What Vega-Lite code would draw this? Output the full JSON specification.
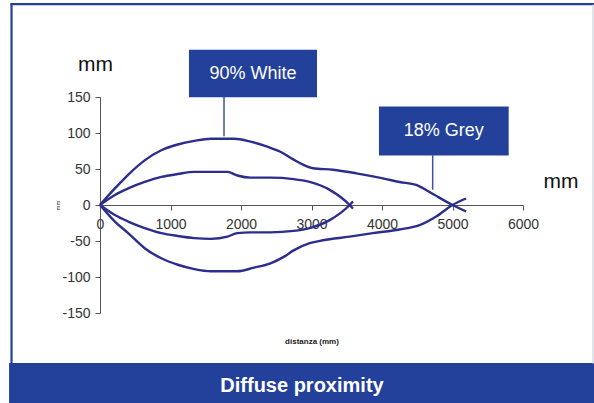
{
  "$schema": "https://vega.github.io/schema/vega-lite/v6.json",
  "width": 423,
  "height": 216,
  "autosize": "none",
  "padding": {"left": 100, "top": 97, "right": 71, "bottom": 90},
  "background": "white",
  "data": {"values": [{}]},
  "config": {
    "view": {"stroke": null},
    "font": "Liberation Sans",
    "axis": {"labelFont": "Liberation Sans", "titleFont": "Liberation Sans", "grid": false}
  },
  "datasets": {
    "curves": [
      {"curve": "white_upper", "d": 0, "w": 0},
      {"curve": "white_upper", "d": 211, "w": 23},
      {"curve": "white_upper", "d": 399, "w": 42},
      {"curve": "white_upper", "d": 634, "w": 62},
      {"curve": "white_upper", "d": 869, "w": 76},
      {"curve": "white_upper", "d": 1103, "w": 84},
      {"curve": "white_upper", "d": 1338, "w": 89},
      {"curve": "white_upper", "d": 1573, "w": 92},
      {"curve": "white_upper", "d": 1901, "w": 92},
      {"curve": "white_upper", "d": 2136, "w": 88},
      {"curve": "white_upper", "d": 2371, "w": 81},
      {"curve": "white_upper", "d": 2559, "w": 74},
      {"curve": "white_upper", "d": 2746, "w": 63},
      {"curve": "white_upper", "d": 2880, "w": 56},
      {"curve": "white_upper", "d": 3021, "w": 51},
      {"curve": "white_upper", "d": 3305, "w": 49},
      {"curve": "white_upper", "d": 3636, "w": 44},
      {"curve": "white_upper", "d": 4013, "w": 37},
      {"curve": "white_upper", "d": 4249, "w": 32},
      {"curve": "white_upper", "d": 4485, "w": 28},
      {"curve": "white_upper", "d": 4674, "w": 18},
      {"curve": "white_upper", "d": 5000, "w": 0},
      {"curve": "white_upper", "d": 5193, "w": -9},
      {"curve": "white_lower", "d": 0, "w": 0},
      {"curve": "white_lower", "d": 211, "w": -23},
      {"curve": "white_lower", "d": 399, "w": -39},
      {"curve": "white_lower", "d": 634, "w": -60},
      {"curve": "white_lower", "d": 869, "w": -74},
      {"curve": "white_lower", "d": 1103, "w": -83},
      {"curve": "white_lower", "d": 1338, "w": -89},
      {"curve": "white_lower", "d": 1573, "w": -92},
      {"curve": "white_lower", "d": 1948, "w": -92},
      {"curve": "white_lower", "d": 2183, "w": -87},
      {"curve": "white_lower", "d": 2418, "w": -81},
      {"curve": "white_lower", "d": 2606, "w": -72},
      {"curve": "white_lower", "d": 2746, "w": -63},
      {"curve": "white_lower", "d": 2974, "w": -53},
      {"curve": "white_lower", "d": 3163, "w": -49},
      {"curve": "white_lower", "d": 3541, "w": -44},
      {"curve": "white_lower", "d": 3871, "w": -39},
      {"curve": "white_lower", "d": 4249, "w": -34},
      {"curve": "white_lower", "d": 4532, "w": -28},
      {"curve": "white_lower", "d": 4769, "w": -16},
      {"curve": "white_lower", "d": 5000, "w": 0},
      {"curve": "white_lower", "d": 5193, "w": 9},
      {"curve": "grey_upper", "d": 0, "w": 0},
      {"curve": "grey_upper", "d": 211, "w": 14},
      {"curve": "grey_upper", "d": 399, "w": 23},
      {"curve": "grey_upper", "d": 634, "w": 32},
      {"curve": "grey_upper", "d": 869, "w": 39},
      {"curve": "grey_upper", "d": 1103, "w": 43},
      {"curve": "grey_upper", "d": 1338, "w": 46},
      {"curve": "grey_upper", "d": 1573, "w": 46},
      {"curve": "grey_upper", "d": 1808, "w": 46},
      {"curve": "grey_upper", "d": 1948, "w": 41},
      {"curve": "grey_upper", "d": 2136, "w": 38},
      {"curve": "grey_upper", "d": 2418, "w": 38},
      {"curve": "grey_upper", "d": 2746, "w": 36},
      {"curve": "grey_upper", "d": 2974, "w": 32},
      {"curve": "grey_upper", "d": 3258, "w": 21},
      {"curve": "grey_upper", "d": 3541, "w": 0},
      {"curve": "grey_upper", "d": 3588, "w": -5},
      {"curve": "grey_lower", "d": 0, "w": 0},
      {"curve": "grey_lower", "d": 211, "w": -14},
      {"curve": "grey_lower", "d": 399, "w": -23},
      {"curve": "grey_lower", "d": 634, "w": -32},
      {"curve": "grey_lower", "d": 869, "w": -39},
      {"curve": "grey_lower", "d": 1103, "w": -43},
      {"curve": "grey_lower", "d": 1338, "w": -46},
      {"curve": "grey_lower", "d": 1573, "w": -47},
      {"curve": "grey_lower", "d": 1808, "w": -44},
      {"curve": "grey_lower", "d": 1948, "w": -39},
      {"curve": "grey_lower", "d": 2136, "w": -38},
      {"curve": "grey_lower", "d": 2418, "w": -38},
      {"curve": "grey_lower", "d": 2746, "w": -36},
      {"curve": "grey_lower", "d": 2974, "w": -32},
      {"curve": "grey_lower", "d": 3258, "w": -21},
      {"curve": "grey_lower", "d": 3541, "w": 0},
      {"curve": "grey_lower", "d": 3588, "w": 5}
    ]
  },
  "layer": [
    {
      "data": {"name": "curves"},
      "mark": {"type": "line", "color": "#2b2e8c", "strokeWidth": 2.4, "interpolate": "monotone"},
      "encoding": {
        "x": {
          "field": "d", "type": "quantitative",
          "scale": {"domain": [0, 6000], "nice": false, "zero": false},
          "axis": {
            "tickCount": 6,
            "labelExpr": "datum.value + ''",
            "offset": -108,
            "domainColor": "#555555",
            "tickColor": "#555555",
            "tickSize": 5,
            "labelFontSize": 14,
            "labelColor": "#333333",
            "labelPadding": 7,
            "labelOverlap": false,
            "labelFlush": false,
            "title": "distanza (mm)",
            "titleFontSize": 8,
            "titleFontWeight": "bold",
            "titleColor": "#222222",
            "titlePadding": 106
          }
        },
        "y": {
          "field": "w", "type": "quantitative",
          "scale": {"domain": [-150, 150], "nice": false, "zero": false},
          "axis": {
            "tickCount": 6,
            "labelExpr": "datum.value + ''",
            "domainColor": "#555555",
            "tickColor": "#555555",
            "tickSize": 5,
            "labelFontSize": 14,
            "labelColor": "#333333",
            "labelPadding": 5,
            "labelOverlap": false,
            "labelFlush": false,
            "labelBound": false,
            "labelBaseline": "middle",
            "title": "mm",
            "titleFontSize": 6,
            "titleFontWeight": "normal",
            "titleColor": "#333333",
            "titlePadding": 1
          }
        },
        "detail": {"field": "curve"}
      }
    },
    {
      "mark": {"type": "rect", "fill": "#23409a"},
      "encoding": {
        "x": {"datum": -1290, "type": "quantitative"},
        "x2": {"datum": 7100},
        "y": {"datum": -219.5, "type": "quantitative"},
        "y2": {"datum": -300}
      }
    },
    {
      "mark": {"type": "rule", "color": "#23409a", "strokeWidth": 2.2},
      "encoding": {
        "x": {"datum": -1270, "type": "quantitative"},
        "x2": {"datum": 7100},
        "y": {"datum": 279, "type": "quantitative"}
      }
    },
    {
      "mark": {"type": "rule", "color": "#23409a", "strokeWidth": 2.2},
      "encoding": {
        "x": {"datum": -1255, "type": "quantitative"},
        "y": {"datum": 280, "type": "quantitative"},
        "y2": {"datum": -220}
      }
    },
    {
      "mark": {"type": "rule", "color": "#d8dbe6", "strokeWidth": 1.5},
      "encoding": {
        "x": {"datum": 6993, "type": "quantitative"},
        "y": {"datum": 278, "type": "quantitative"},
        "y2": {"datum": -220}
      }
    },
    {
      "mark": {"type": "rule", "color": "#3a55a8", "strokeWidth": 1.5},
      "encoding": {
        "x": {"datum": 1759, "type": "quantitative"},
        "y": {"datum": 150, "type": "quantitative"},
        "y2": {"datum": 95.6}
      }
    },
    {
      "mark": {"type": "rule", "color": "#3a55a8", "strokeWidth": 1.5},
      "encoding": {
        "x": {"datum": 4719, "type": "quantitative"},
        "y": {"datum": 69, "type": "quantitative"},
        "y2": {"datum": 21.3}
      }
    },
    {
      "mark": {"type": "rect", "fill": "#23409a"},
      "encoding": {
        "x": {"datum": 1262, "type": "quantitative"},
        "x2": {"datum": 3078},
        "y": {"datum": 149.6, "type": "quantitative"},
        "y2": {"datum": 215.7}
      }
    },
    {
      "mark": {"type": "rect", "fill": "#23409a"},
      "encoding": {
        "x": {"datum": 3957, "type": "quantitative"},
        "x2": {"datum": 5797},
        "y": {"datum": 68.9, "type": "quantitative"},
        "y2": {"datum": 136.9}
      }
    },
    {
      "mark": {"type": "text", "color": "white", "fontSize": 18, "align": "center", "baseline": "middle"},
      "encoding": {
        "x": {"datum": 2170, "type": "quantitative"},
        "y": {"datum": 181.7, "type": "quantitative"},
        "text": {"value": "90% White"}
      }
    },
    {
      "mark": {"type": "text", "color": "white", "fontSize": 18, "align": "center", "baseline": "middle"},
      "encoding": {
        "x": {"datum": 4877, "type": "quantitative"},
        "y": {"datum": 103, "type": "quantitative"},
        "text": {"value": "18% Grey"}
      }
    },
    {
      "mark": {"type": "text", "color": "#111111", "fontSize": 21, "align": "center", "baseline": "alphabetic"},
      "encoding": {
        "x": {"datum": -64, "type": "quantitative"},
        "y": {"datum": 185.6, "type": "quantitative"},
        "text": {"value": "mm"}
      }
    },
    {
      "mark": {"type": "text", "color": "#111111", "fontSize": 21, "align": "center", "baseline": "alphabetic"},
      "encoding": {
        "x": {"datum": 6539, "type": "quantitative"},
        "y": {"datum": 24, "type": "quantitative"},
        "text": {"value": "mm"}
      }
    },
    {
      "mark": {"type": "text", "color": "white", "fontSize": 20, "fontWeight": "bold", "align": "center", "baseline": "middle"},
      "encoding": {
        "x": {"datum": 2865, "type": "quantitative"},
        "y": {"datum": -252, "type": "quantitative"},
        "text": {"value": "Diffuse proximity"}
      }
    }
  ]
}
